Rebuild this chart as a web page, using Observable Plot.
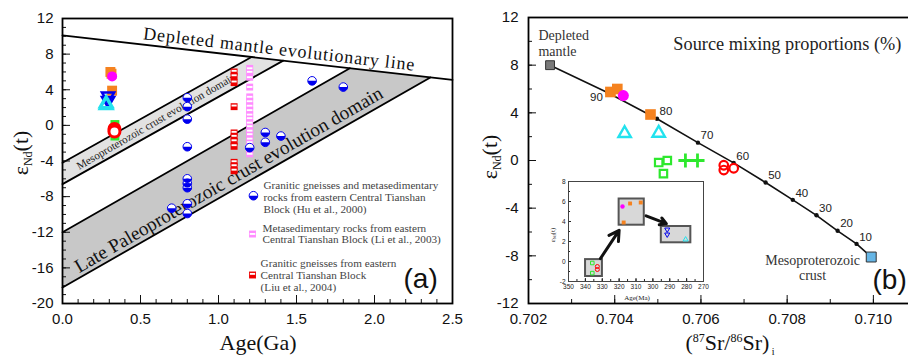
<!DOCTYPE html>
<html><head><meta charset="utf-8">
<script src="https://cdn.jsdelivr.net/npm/d3@7"></script>
<script src="https://cdn.jsdelivr.net/npm/@observablehq/plot@0.6"></script>
<style>
html,body{margin:0;padding:0;background:#fff;}
#wrap{position:relative;width:908px;height:356px;overflow:hidden;background:#fff;}
#wrap svg{position:absolute;top:0;}
</style></head><body><div id="wrap"></div>
<script>
// ================= Panel (a): εNd(t) vs Age (Ga) =================
const dmLineAge = [0, 2.5];
const dmLineEps = [10.1, 5.1];
const mesoBandAge = [0, 1.212, 1.415, 0];
const mesoBandEps = [-4.2, 7.68, 7.27, -6.6];
const lateBandAge = [0, 1.842, 2.358, 0];
const lateBandEps = [-12, 6.42, 5.38, -18.2];

// Hu et al., 2000 (blue half-filled circles)
const huAge = [0.8, 0.8, 0.8, 0.8, 0.8, 0.8, 0.8, 0.8, 0.8, 0.7, 1.2, 1.3, 1.3, 1.4, 1.6, 1.8];
const huEps = [3.1, 2.1, 0.7, -2.4, -6.0, -6.5, -7.0, -8.8, -9.9, -9.3, -2.5, -0.8, -1.9, -1.2, 5.0, 4.3];
// Li et al., 2003 (pink)
const liEps = [6.4, 6.0, 5.4, 4.3, 3.2, 2.7, 2.2, 1.7, 1.2, 0.8, 0.3, -0.1, -0.6, -1.0, -1.5, -1.9, -2.4, -2.8, -3.2];
const liAge = liEps.map(() => 1.2);
// Liu et al., 2004 (red)
const liuEps = [6.0, 5.5, 4.8, 2.1, -0.85, -1.3, -1.8, -2.35, -4.15, -4.6, -5.1];
const liuAge = liuEps.map(() => 1.1);

// study samples (age in Ga)
const orangeAge = [0.314, 0.307, 0.318], orangeEps = [5.8, 6.0, 3.9];
const magentaAge = [0.318], magentaEps = [5.5];
const blueTriAge = [0.292, 0.292], blueTriEps = [3.3, 2.8];
const cyanAge = [0.280, 0.280], cyanEps = [2.25, 2.45];
const greenAge = [0.336, 0.336], greenEps = [0.1, -1.2];
const redAge = [0.333, 0.333], redEps = [-0.4, -0.7];

const legendTexts = [
  ["Granitic gneisses and metasedimentary", 1.288, -6.76],
  ["rocks from eastern Central Tianshan", 1.288, -8.1],
  ["Block (Hu et al., 2000)", 1.288, -9.46],
  ["Metasedimentary rocks from eastern", 1.282, -11.6],
  ["Central Tianshan Block (Li et al., 2003)", 1.282, -12.85],
  ["Granitic gneisses from eastern", 1.27, -15.5],
  ["Central Tianshan Block", 1.27, -16.85],
  ["(Liu et al., 2004)", 1.27, -18.2]
];

// ================= Panel (b): εNd(t) vs (87Sr/86Sr)i =================
const mixSr  = [0.7025, 0.70383, 0.70498, 0.70593, 0.70676, 0.70750, 0.70813, 0.70868, 0.70917, 0.70961, 0.70995];
const mixEps = [8.0, 5.7, 3.5, 1.5, -0.2, -1.85, -3.3, -4.6, -5.9, -7.0, -8.1];
const mixLabels = ["", "90", "80", "70", "60", "50", "40", "30", "20", "10", ""];

const orangeSr = [0.7039, 0.70406, 0.70483], orangeSrEps = [5.75, 6.0, 3.86];
const magentaSr = [0.7042], magentaSrEps = [5.45];
const cyanSr = [0.70423, 0.70502], cyanSrEps = [2.27, 2.3];
const greenSqSr = [0.70502, 0.70522, 0.70513], greenSqSrEps = [-0.17, 0.0, -1.1];
const greenPlusSr = [0.70564, 0.70592], greenPlusSrEps = [0.0, 0.0];
const redSr = [0.70653, 0.70653, 0.70676], redSrEps = [-0.4, -0.8, -0.65];

// inset (Age Ma vs εNd)
const insetRectX1 = [339.9, 320.0, 295.0], insetRectX2 = [329.9, 305.1, 277.5];
const insetRectY1 = [0.19, 6.25, 3.5], insetRectY2 = [-1.5, 3.63, 1.87];
const insGreenAge = [335.9, 335.9], insGreenEps = [-0.15, -1.16];
const insRedAge = [332.9, 332.9], insRedEps = [-0.5, -0.8];
const insMagAge = [318], insMagEps = [5.5];
const insOrangeAge = [313.5, 307.2, 317.3], insOrangeEps = [5.8, 5.9, 3.9];
const insBlueAge = [291.5, 291.5], insBlueEps = [3.2, 2.7];
const insCyanAge = [280.6], insCyanEps = [2.2];
const insArrowX1 = [331.1, 304], insArrowY1 = [0.29, 4.57];
const insArrowX2 = [320, 292], insArrowY2 = [3.12, 3.79];

// ---------- helpers ----------
const zip = (xs, ys) => xs.map((x, i) => ({x, y: ys[i]}));
const lowerHalf = {draw(c, s) { const r = Math.sqrt(s / Math.PI); c.moveTo(r, 0); c.arc(0, 0, r, 0, Math.PI); c.closePath(); }};
const stripeMid = {draw(c, s) { const h = Math.sqrt(s) / 2; c.moveTo(-h * 0.8, -h * 0.3); c.lineTo(h * 0.8, -h * 0.3); c.lineTo(h * 0.8, h * 0.25); c.lineTo(-h * 0.8, h * 0.25); c.closePath(); }};
const stripeTop = {draw(c, s) { const h = Math.sqrt(s) / 2; c.moveTo(-h * 0.75, -h * 0.6); c.lineTo(h * 0.75, -h * 0.6); c.lineTo(h * 0.75, -h * 0.05); c.lineTo(-h * 0.75, -h * 0.05); c.closePath(); }};
const triUp = {draw(c, s) { const a = Math.sqrt(s) * 1.3, h = a * Math.sqrt(3) / 2; c.moveTo(0, -2 * h / 3); c.lineTo(a / 2, h / 3); c.lineTo(-a / 2, h / 3); c.closePath(); }};
const triDown = {draw(c, s) { const a = Math.sqrt(s) * 1.3, h = a * Math.sqrt(3) / 2; c.moveTo(0, 2 * h / 3); c.lineTo(a / 2, -h / 3); c.lineTo(-a / 2, -h / 3); c.closePath(); }};

const SERIF = "Liberation Serif, Times New Roman, serif";
const SANS = "Liberation Sans, Arial, sans-serif";
const C = {orange: "#f5821f", magenta: "#ff00ff", blue: "#0000ee", cyan: "#22e2ee", green: "#2ee82e", red: "#ff0000", pink: "#ff8cff", liured: "#ee0000"};

const wrap = document.getElementById("wrap");

// ================= Panel (a) =================
const hu = zip(huAge, huEps), li = zip(liAge, liEps), liu = zip(liuAge, liuEps);
const legHu = [{x: 1.224, y: -7.9}], legLi = [{x: 1.218, y: -12.2}], legLiu = [{x: 1.218, y: -16.8}];

const left = Plot.plot({
  width: 460, height: 356, marginLeft: 62, marginRight: 8, marginTop: 18, marginBottom: 53,
  x: {domain: [0, 2.5]}, y: {domain: [-20, 12]},
  style: {fontFamily: SANS, fontSize: "15px", color: "#111", background: "transparent", overflow: "visible"},
  marks: [
    Plot.line(zip(mesoBandAge, mesoBandEps), {x: "x", y: "y", fill: "#e2e2e2", stroke: null, curve: "linear-closed"}),
    Plot.line(zip(lateBandAge, lateBandEps), {x: "x", y: "y", fill: "#c8c8c8", stroke: null, curve: "linear-closed"}),
    Plot.line(zip(dmLineAge, dmLineEps), {x: "x", y: "y", stroke: "#000", strokeWidth: 1.8}),
    Plot.line(zip([mesoBandAge[0], mesoBandAge[1]], [mesoBandEps[0], mesoBandEps[1]]), {x: "x", y: "y", stroke: "#000", strokeWidth: 1.8}),
    Plot.line(zip([mesoBandAge[3], mesoBandAge[2]], [mesoBandEps[3], mesoBandEps[2]]), {x: "x", y: "y", stroke: "#000", strokeWidth: 1.8}),
    Plot.line(zip([lateBandAge[0], lateBandAge[1]], [lateBandEps[0], lateBandEps[1]]), {x: "x", y: "y", stroke: "#000", strokeWidth: 1.8}),
    Plot.line(zip([lateBandAge[3], lateBandAge[2]], [lateBandEps[3], lateBandEps[2]]), {x: "x", y: "y", stroke: "#000", strokeWidth: 1.8}),
    Plot.text(["Depleted mantle evolutionary line"], {x: 1.39, y: 8.55, rotate: 6.6, fontFamily: SERIF, fontSize: 18, fill: "#111"}),
    Plot.text(["Mesoproterozoic crust evolution domain"], {x: 0.6, y: 0.45, rotate: -30, fontFamily: SERIF, fontSize: 11.2, fill: "#222"}),
    Plot.text(["Late Paleoproterozoic crust evolution domain"], {x: 1.065, y: -6.1, rotate: -30, fontFamily: SERIF, fontSize: 19.3, fill: "#111"}),
    // literature data
    Plot.dot(li, {x: "x", y: "y", symbol: "square", r: 3.9, fill: C.pink, stroke: null}),
    Plot.dot(li, {x: "x", y: "y", symbol: stripeMid, r: 3.9, fill: "#fff", stroke: null}),
    Plot.dot(liu, {x: "x", y: "y", symbol: "square", r: 3.9, fill: C.liured, stroke: null}),
    Plot.dot(liu, {x: "x", y: "y", symbol: stripeTop, r: 3.9, fill: "#fff", stroke: null}),
    Plot.dot(hu, {x: "x", y: "y", r: 4.3, fill: "#fff", stroke: C.blue, strokeWidth: 1}),
    Plot.dot(hu, {x: "x", y: "y", r: 4.3, symbol: lowerHalf, fill: C.blue, stroke: null}),
    // study samples
    Plot.dot(zip(greenAge, greenEps), {x: "x", y: "y", symbol: "square", r: 5, fill: C.green, stroke: null}),
    Plot.dot(zip(orangeAge, orangeEps), {x: "x", y: "y", symbol: "square", r: 5.6, fill: C.orange, stroke: null}),
    Plot.dot(zip(magentaAge, magentaEps), {x: "x", y: "y", r: 5, fill: C.magenta, stroke: null}),
    Plot.dot(zip(blueTriAge, blueTriEps), {x: "x", y: "y", symbol: triDown, r: 5.2, fill: "none", stroke: C.blue, strokeWidth: 2.6}),
    Plot.dot(zip(cyanAge, cyanEps), {x: "x", y: "y", symbol: triUp, r: 5.6, fill: "none", stroke: C.cyan, strokeWidth: 2.6}),
    Plot.dot(zip(redAge, redEps), {x: "x", y: "y", r: 5.5, fill: "#fff", stroke: C.red, strokeWidth: 3}),
    // legend
    Plot.dot(legHu, {x: "x", y: "y", r: 4.3, fill: "#fff", stroke: C.blue, strokeWidth: 1}),
    Plot.dot(legHu, {x: "x", y: "y", r: 4.3, symbol: lowerHalf, fill: C.blue, stroke: null}),
    Plot.dot(legLi, {x: "x", y: "y", symbol: "square", r: 3.9, fill: C.pink, stroke: null}),
    Plot.dot(legLi, {x: "x", y: "y", symbol: stripeMid, r: 3.9, fill: "#fff", stroke: null}),
    Plot.dot(legLiu, {x: "x", y: "y", symbol: "square", r: 3.9, fill: C.liured, stroke: null}),
    Plot.dot(legLiu, {x: "x", y: "y", symbol: stripeTop, r: 3.9, fill: "#fff", stroke: null}),
    Plot.text(legendTexts, {x: d => d[1], y: d => d[2], text: d => d[0], textAnchor: "start", fontFamily: SERIF, fontSize: 11.2, fill: "#444"}),
    Plot.text(["(a)"], {x: 2.186, y: -17.2, textAnchor: "start", fontFamily: SANS, fontSize: 28, fill: "#111"}),
    // axes
    Plot.axisY({ticks: d3.range(-20, 13, 1), tickSize: -4, tickFormat: () => "", label: null}),
    Plot.axisY({ticks: d3.range(-20, 13, 4), tickSize: -8, tickPadding: 17, tickFormat: d => String(d), label: null}),
    Plot.axisX({ticks: d3.range(0, 26).map(i => i / 10), tickSize: -4, tickFormat: () => "", label: null}),
    Plot.axisX({ticks: d3.range(0, 6).map(i => i / 2), tickSize: -8, tickPadding: 18, tickFormat: d => d.toFixed(1), label: null}),
    Plot.frame({stroke: "#000", strokeWidth: 1.8})
  ]
});
left.style.left = "0px";
// widen letter spacing of the depleted-mantle label, as in the original
d3.select(left).selectAll("text").filter(function() { return this.textContent === "Depleted mantle evolutionary line"; })
  .style("letter-spacing", "0.85px");

// ================= Panel (b) =================
const mix = mixSr.map((x, i) => ({x, y: mixEps[i], label: mixLabels[i]}));
const mixInner = mix.filter(d => d.label !== "");

const right = Plot.plot({
  width: 470, height: 356, marginLeft: 68, marginRight: 14, marginTop: 17, marginBottom: 53,
  x: {domain: [0.702, 0.711]}, y: {domain: [-12, 12]},
  style: {fontFamily: SANS, fontSize: "15px", color: "#111", background: "transparent", overflow: "visible"},
  marks: [
    Plot.line(mix, {x: "x", y: "y", stroke: "#111", strokeWidth: 1.6}),
    Plot.dot(mixInner, {x: "x", y: "y", r: 2.2, fill: "#111", stroke: null}),
    Plot.text(mixInner.filter(d => d.label === "90"), {x: "x", y: "y", text: "label", dx: -11, dy: 5, fontFamily: SANS, fontSize: 11.5, fill: "#222"}),
    Plot.text(mixInner.filter(d => d.label !== "90"), {x: "x", y: "y", text: "label", dx: 9, dy: -7, fontFamily: SANS, fontSize: 11.5, fill: "#222"}),
    Plot.dot([{x: mixSr[0], y: mixEps[0]}], {x: "x", y: "y", symbol: "square", r: 5, fill: "#7a7a7a", stroke: "#333", strokeWidth: 1}),
    Plot.dot([{x: mixSr[10], y: mixEps[10]}], {x: "x", y: "y", symbol: "square", r: 5.6, fill: "#66b6e6", stroke: "#333", strokeWidth: 1}),
    Plot.dot(zip(orangeSr, orangeSrEps), {x: "x", y: "y", symbol: "square", r: 6, fill: C.orange, stroke: null}),
    Plot.dot(zip(magentaSr, magentaSrEps), {x: "x", y: "y", r: 5.5, fill: C.magenta, stroke: null}),
    Plot.dot(zip(cyanSr, cyanSrEps), {x: "x", y: "y", symbol: triUp, r: 5.4, fill: "none", stroke: C.cyan, strokeWidth: 2.4}),
    Plot.dot(zip(greenSqSr, greenSqSrEps), {x: "x", y: "y", symbol: "square", r: 4.2, fill: "none", stroke: C.green, strokeWidth: 2.2}),
    Plot.dot(zip(greenPlusSr, greenPlusSrEps), {x: "x", y: "y", symbol: "plus", r: 4.6, fill: "none", stroke: C.green, strokeWidth: 2.8}),
    Plot.dot(zip(redSr, redSrEps), {x: "x", y: "y", r: 4.3, fill: "none", stroke: C.red, strokeWidth: 2.2}),
    Plot.text(["Depleted\nmantle"], {x: 0.70223, y: 9.85, textAnchor: "start", lineHeight: 1.1, fontFamily: SERIF, fontSize: 14, fill: "#333"}),
    Plot.text(["Source mixing proportions (%)"], {x: 0.70536, y: 9.8, textAnchor: "start", fontFamily: SERIF, fontSize: 18.3, fill: "#222"}),
    Plot.text(["Mesoproterozoic\ncrust"], {x: 0.70859, y: -9.0, lineHeight: 1.1, fontFamily: SERIF, fontSize: 14, fill: "#333"}),
    Plot.text(["(b)"], {x: 0.70998, y: -10.06, textAnchor: "start", fontFamily: SANS, fontSize: 28, fill: "#111"}),
    Plot.axisY({ticks: d3.range(-12, 13, 2), tickSize: -4, tickFormat: () => "", label: null}),
    Plot.axisY({ticks: d3.range(-12, 13, 4), tickSize: -8, tickPadding: 18, tickFormat: d => String(d), label: null}),
    Plot.axisX({ticks: d3.range(0, 10).map(i => 0.702 + i * 0.001), tickSize: -4, tickFormat: () => "", label: null}),
    Plot.axisX({ticks: d3.range(0, 5).map(i => 0.702 + i * 0.002), tickSize: -8, tickPadding: 18, tickFormat: d => d.toFixed(3), label: null}),
    Plot.frame({stroke: "#000", strokeWidth: 1.8})
  ]
});
right.style.left = "460px";

// ================= Inset =================
const insRects = insetRectX1.map((x1, i) => ({x1, x2: insetRectX2[i], y1: insetRectY1[i], y2: insetRectY2[i]}));
const insArrows = insArrowX1.map((x1, i) => ({x1, y1: insArrowY1[i], x2: insArrowX2[i], y2: insArrowY2[i]}));
const inset = Plot.plot({
  width: 170, height: 132, marginLeft: 28, marginRight: 7, marginTop: 9, marginBottom: 23,
  x: {domain: [350, 270]}, y: {domain: [-2, 8]},
  style: {fontFamily: SANS, fontSize: "6.5px", color: "#222", background: "transparent", overflow: "visible"},
  marks: [
    Plot.rect(insRects, {x1: "x1", x2: "x2", y1: "y1", y2: "y2", fill: "#d8d8d8", stroke: "#555", strokeWidth: 2}),
    Plot.arrow(insArrows, {x1: "x1", y1: "y1", x2: "x2", y2: "y2", stroke: "#111", strokeWidth: 3, headLength: 12, headAngle: 60}),
    Plot.dot(zip(insGreenAge, insGreenEps), {x: "x", y: "y", symbol: "square", r: 2, fill: "none", stroke: C.green, strokeWidth: 1}),
    Plot.dot(zip(insRedAge, insRedEps), {x: "x", y: "y", r: 2, fill: "none", stroke: C.red, strokeWidth: 1}),
    Plot.dot(zip(insMagAge, insMagEps), {x: "x", y: "y", r: 2.2, fill: C.magenta, stroke: null}),
    Plot.dot(zip(insOrangeAge, insOrangeEps), {x: "x", y: "y", symbol: "square", r: 2.2, fill: C.orange, stroke: null}),
    Plot.dot(zip(insBlueAge, insBlueEps), {x: "x", y: "y", symbol: triDown, r: 2.2, fill: "none", stroke: C.blue, strokeWidth: 1}),
    Plot.dot(zip(insCyanAge, insCyanEps), {x: "x", y: "y", symbol: triUp, r: 2.2, fill: "none", stroke: C.cyan, strokeWidth: 1}),
    Plot.axisY({ticks: d3.range(-2, 9, 1), tickSize: -2, tickFormat: () => "", label: null}),
    Plot.axisY({ticks: d3.range(-2, 9, 2), tickSize: -3, tickPadding: 6, tickFormat: d => String(d), label: null}),
    Plot.axisX({ticks: d3.range(270, 351, 5), tickSize: -2, tickFormat: () => "", label: null}),
    Plot.axisX({ticks: d3.range(270, 351, 10), tickSize: -3, tickPadding: 6, tickFormat: d => String(d), label: null}),
    Plot.frame({stroke: "#444", strokeWidth: 1})
  ]
});
inset.style.left = "540px";
inset.style.top = "172px";

wrap.appendChild(right);
wrap.appendChild(left);
wrap.appendChild(inset);

// ---------- axis titles ----------
function yTitle(svg, x, y, size, sub) {
  const t = d3.select(svg).append("text")
    .attr("transform", `translate(${x},${y}) rotate(-90)`)
    .attr("text-anchor", "middle").attr("font-family", SERIF).attr("font-size", size).attr("fill", "#111");
  t.append("tspan").text("ε");
  t.append("tspan").attr("font-size", sub).attr("dy", size * 0.2).text("Nd");
  t.append("tspan").attr("dy", -size * 0.2).text("(t)");
}
yTitle(left, 28, 153, 22, 12);
yTitle(right, 37, 157, 22, 12);
yTitle(inset, 15, 63, 7, 4);

d3.select(left).append("text").attr("x", 258).attr("y", 350).attr("text-anchor", "middle")
  .attr("font-family", SERIF).attr("font-size", 22).attr("fill", "#111").text("Age(Ga)");

const xt = d3.select(right).append("text").attr("x", 270).attr("y", 350).attr("text-anchor", "middle")
  .attr("font-family", SERIF).attr("font-size", 22).attr("fill", "#111");
xt.append("tspan").text("(");
xt.append("tspan").attr("font-size", 12).attr("dy", -8).text("87");
xt.append("tspan").attr("dy", 8).text("Sr/");
xt.append("tspan").attr("font-size", 12).attr("dy", -8).text("86");
xt.append("tspan").attr("dy", 8).text("Sr)");
xt.append("tspan").attr("font-size", 10).attr("dy", 5).text(" i");

d3.select(inset).append("text").attr("x", 97).attr("y", 128).attr("text-anchor", "middle")
  .attr("font-family", SERIF).attr("font-size", 7).attr("fill", "#222").text("Age(Ma)");
</script></body></html>
